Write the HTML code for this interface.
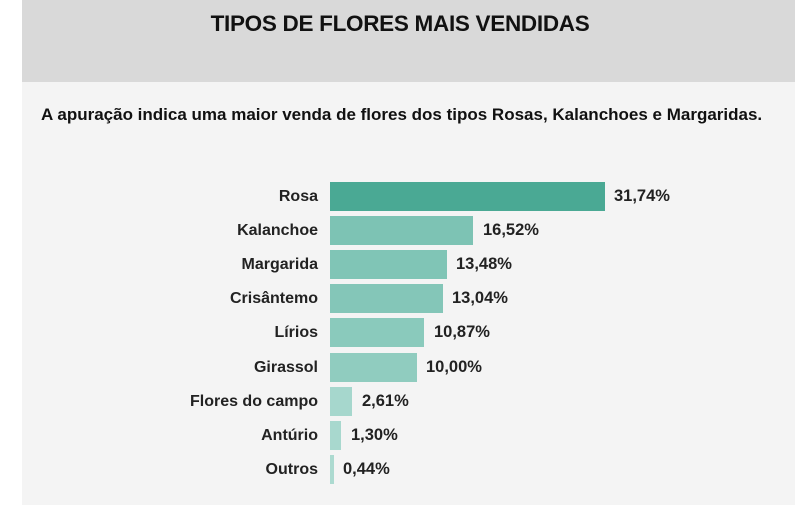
<!DOCTYPE html>
<html><head><meta charset="utf-8"><style>
body{margin:0;width:800px;height:511px;background:#fff;position:relative;font-family:"Liberation Sans",sans-serif;overflow:hidden}
.hd{position:absolute;left:22px;top:0;width:773px;height:82px;background:#d9d9d9}
.bd{position:absolute;left:22px;top:82px;width:773px;height:423px;background:#f4f4f4}
.t{position:absolute;left:0;width:800px;top:11px;text-align:center;font-weight:bold;font-size:22.5px;color:#111;letter-spacing:-0.3px}
.s{position:absolute;left:41px;top:105px;font-weight:bold;font-size:17px;color:#111;letter-spacing:0px;white-space:nowrap}
.l{position:absolute;right:482px;font-weight:bold;font-size:16px;color:#222;line-height:29px;white-space:nowrap}
.b{position:absolute;left:330px;height:29px}
.v{position:absolute;font-weight:bold;font-size:16.5px;color:#222;line-height:29px}
</style></head><body>
<div class="hd"></div><div class="bd"></div>
<div class="t">TIPOS DE FLORES MAIS VENDIDAS</div>
<div class="s">A apuração indica uma maior venda de flores dos tipos Rosas, Kalanchoes e Margaridas.</div>

<div class="l" style="top:182px">Rosa</div><div class="b" style="top:182px;width:275px;background:#4aa994"></div><div class="v" style="top:182px;left:614px">31,74%</div>
<div class="l" style="top:216px">Kalanchoe</div><div class="b" style="top:216px;width:143px;background:#7dc3b4"></div><div class="v" style="top:216px;left:483px">16,52%</div>
<div class="l" style="top:250px">Margarida</div><div class="b" style="top:250px;width:117px;background:#80c5b6"></div><div class="v" style="top:250px;left:456px">13,48%</div>
<div class="l" style="top:284px">Crisântemo</div><div class="b" style="top:284px;width:113px;background:#84c6b8"></div><div class="v" style="top:284px;left:452px">13,04%</div>
<div class="l" style="top:318px">Lírios</div><div class="b" style="top:318px;width:94px;background:#8acabc"></div><div class="v" style="top:318px;left:434px">10,87%</div>
<div class="l" style="top:353px">Girassol</div><div class="b" style="top:353px;width:87px;background:#90ccbf"></div><div class="v" style="top:353px;left:426px">10,00%</div>
<div class="l" style="top:387px">Flores do campo</div><div class="b" style="top:387px;width:22px;background:#a6d7cd"></div><div class="v" style="top:387px;left:362px">2,61%</div>
<div class="l" style="top:421px">Antúrio</div><div class="b" style="top:421px;width:11px;background:#a8d8ce"></div><div class="v" style="top:421px;left:351px">1,30%</div>
<div class="l" style="top:455px">Outros</div><div class="b" style="top:455px;width:4px;background:#acdad0"></div><div class="v" style="top:455px;left:343px">0,44%</div>
</body></html>
